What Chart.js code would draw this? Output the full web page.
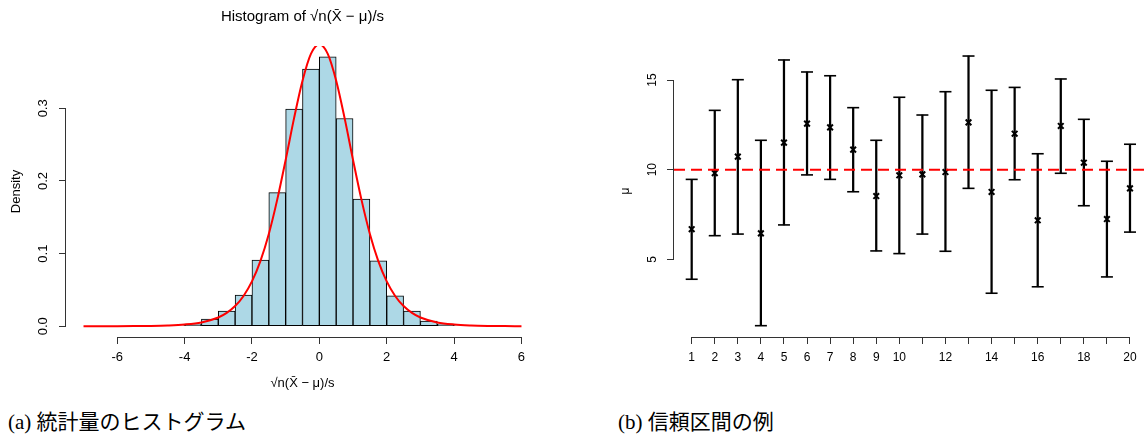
<!DOCTYPE html>
<html>
<head>
<meta charset="utf-8">
<script src="https://cdn.jsdelivr.net/npm/chart.js@4.4.0/dist/chart.umd.min.js"></script>
<style>
  html, body { margin:0; padding:0; background:#fff; overflow:hidden; }
  body { width:1146px; height:448px; position:relative; }
  canvas { position:absolute; top:0; }
  #cA { left:0; }
  #cB { left:570px; }
  .cap { position:absolute; top:412px; font-family:"Liberation Serif","Noto Sans CJK JP",serif; font-size:21px; line-height:21px; color:#000; white-space:nowrap; }
  #capA { left:8px; }
  #capB { left:618px; }
</style>
</head>
<body>
<canvas id="cA" width="560" height="400"></canvas>
<canvas id="cB" width="576" height="400"></canvas>
<div class="cap" id="capA">(a) 統計量のヒストグラム</div>
<div class="cap" id="capB">(b) 信頼区間の例</div>
<script>
// ---------- Panel (a): histogram ----------
const histCenters = [-4.25,-3.75,-3.25,-2.75,-2.25,-1.75,-1.25,-0.75,-0.25,0.25,0.75,1.25,1.75,2.25,2.75,3.25,3.75,4.25];
const histDensity = [0.001,0.003,0.010,0.021,0.043,0.091,0.184,0.299,0.354,0.371,0.286,0.175,0.090,0.042,0.021,0.007,0.003,0.001];
const curveX = [-7,-6.5,-6,-5.5,-5,-4.5,-4,-3.5,-3,-2.75,-2.5,-2.25,-2,-1.75,-1.5,-1.25,-1,-0.75,-0.5,-0.25,0,0.25,0.5,0.75,1,1.25,1.5,1.75,2,2.25,2.5,2.75,3,3.5,4,4.5,5,5.5,6];
const curveY = [0.00004,0.00007,0.00012,0.00025,0.0005,0.0011,0.0024,0.0053,0.0121,0.0184,0.0278,0.0417,0.0617,0.0897,0.127,0.1743,0.229,0.2865,0.338,0.375,0.388,0.375,0.338,0.2865,0.229,0.1743,0.127,0.0897,0.0617,0.0417,0.0278,0.0184,0.0121,0.0053,0.0024,0.0011,0.0005,0.00025,0.00012];
const xTicksA = [-6,-4,-2,0,2,4,6];
const yTicksA = [0,0.1,0.2,0.3];
const xRangeA = [-7.52, 6.52];
const yRangeA = [-0.0148, 0.3858];

// ---------- Panel (b): confidence intervals ----------
const ciIndex  = [1,2,3,4,5,6,7,8,9,10,11,12,13,14,15,16,17,18,19,20];
const ciCenter = [6.68,9.81,10.73,6.45,11.51,12.57,12.36,11.12,8.53,9.69,9.74,9.87,12.64,8.76,12.01,7.18,12.44,10.39,7.25,8.96];
const ciLower  = [3.89,6.32,6.41,1.30,6.92,9.71,9.46,8.77,5.47,5.32,6.41,5.45,8.96,3.11,9.44,3.47,9.80,7.99,4.02,6.52];
const ciUpper  = [9.46,13.31,15.02,11.64,16.12,15.45,15.24,13.46,11.64,14.04,13.05,14.35,16.34,14.43,14.59,10.89,15.06,12.81,10.47,11.42];
const trueMu = 10;
const xTicksB = [1,2,3,4,5,6,7,8,9,10,11,12,13,14,15,16,17,18,19,20];
const xLabelsB = [1,2,3,4,5,6,7,8,9,10,12,14,16,18,20];
const yTicksB = [5,10,15];
const xRangeB = [0.233, 20.694];
const yRangeB = [0.669, 16.955];

const FONT = "'Liberation Sans', Arial, Helvetica, sans-serif";
const AXIS = '#333';

const axisLines = {
  id: 'axisLines',
  afterDraw(chart) {
    const ctx = chart.ctx;
    const xs = chart.scales.x, ys = chart.scales.y;
    const al = p => Math.round(p - 0.5) + 0.5;
    ctx.save();
    ctx.strokeStyle = AXIS;
    ctx.lineWidth = 1;
    ctx.beginPath();
    const xt = xs.ticks, yt = ys.ticks;
    const yb = Math.round(xs.top) + 0.5;
    ctx.moveTo(al(xs.getPixelForValue(xt[0].value)), yb);
    ctx.lineTo(al(xs.getPixelForValue(xt[xt.length-1].value)), yb);
    const xl = Math.round(ys.right) - 0.5;
    ctx.moveTo(xl, al(ys.getPixelForValue(yt[0].value)));
    ctx.lineTo(xl, al(ys.getPixelForValue(yt[yt.length-1].value)));
    ctx.stroke();
    ctx.restore();
  }
};

function tickGrid() {
  return { display:true, offset:false, drawOnChartArea:false, drawTicks:true, tickLength:7, tickColor:AXIS, tickWidth:1, color:AXIS };
}
function fixX(h) {
  return s => { s.height = h; s.paddingLeft = 0; s.paddingRight = 0; };
}
function fixY(w) {
  return s => { s.width = w; s.paddingTop = 0; s.paddingBottom = 0; };
}

new Chart(document.getElementById('cA'), {
  type: 'bar',
  data: {
    datasets: [
      {
        type: 'line',
        data: curveX.map((x, i) => ({ x: x, y: curveY[i] })),
        borderColor: '#ff0000',
        borderWidth: 2,
        pointRadius: 0,
        cubicInterpolationMode: 'monotone',
        fill: false,
        order: 0
      },
      {
        type: 'bar',
        data: histCenters.map((x, i) => ({ x: x, y: histDensity[i] })),
        backgroundColor: '#add8e6',
        borderColor: '#000',
        borderWidth: 1,
        borderSkipped: false,
        barPercentage: 1,
        categoryPercentage: 1,
        order: 1
      }
    ]
  },
  options: {
    responsive: false,
    animation: false,
    devicePixelRatio: 1,
    layout: { autoPadding: false, padding: { left: 0, right: 21, top: 0, bottom: 0 } },
    plugins: {
      legend: { display: false },
      tooltip: { enabled: false },
      title: {
        display: true,
        fullSize: false,
        text: 'Histogram of \u221An(X\u0304 \u2212 \u03bc)/s',
        color: '#000',
        font: { family: FONT, size: 15, weight: 'normal' },
        padding: { top: 8, bottom: 20 }
      }
    },
    scales: {
      x: {
        type: 'linear',
        min: xRangeA[0], max: xRangeA[1],
        offset: false,
        afterBuildTicks: s => { s.ticks = xTicksA.map(v => ({ value: v })); },
        afterFit: fixX(63),
        grid: tickGrid(),
        border: { display: false },
        ticks: { autoSkip: false, maxRotation: 0, color: '#000', font: { family: FONT, size: 13 }, padding: 6 },
        title: { display: true, text: '\u221An(X\u0304 \u2212 \u03bc)/s', color: '#000', font: { family: FONT, size: 13 }, padding: { top: 0, bottom: 9 } }
      },
      y: {
        type: 'linear',
        min: yRangeA[0], max: yRangeA[1],
        afterBuildTicks: s => { s.ticks = yTicksA.map(v => ({ value: v })); },
        afterFit: fixY(66),
        grid: tickGrid(),
        border: { display: false },
        ticks: { minRotation: 90, maxRotation: 90, crossAlign: 'center', padding: 7, color: '#000', font: { family: FONT, size: 13 }, callback: v => Number(v).toFixed(1) },
        title: { display: true, text: 'Density', color: '#000', font: { family: FONT, size: 13 }, padding: { top: 9, bottom: 0 } }
      }
    }
  },
  plugins: [axisLines]
});

new Chart(document.getElementById('cB'), {
  type: 'bar',
  data: {
    datasets: [
      {
        type: 'line',
        data: [{ x: xRangeB[0], y: trueMu }, { x: xRangeB[1], y: trueMu }],
        borderColor: '#ff0000',
        borderWidth: 2,
        borderDash: [11, 6],
        pointRadius: 0,
        fill: false,
        order: 0
      },
      {
        type: 'line',
        showLine: false,
        data: ciIndex.map((x, i) => ({ x: x, y: ciCenter[i] })),
        pointStyle: 'crossRot',
        pointRadius: 4,
        pointBorderWidth: 2,
        pointBorderColor: '#000',
        borderColor: '#000',
        order: 1
      },
      {
        type: 'line',
        showLine: false,
        data: ciIndex.map((x, i) => ({ x: x, y: ciUpper[i] })),
        pointStyle: 'line',
        pointRadius: 6,
        pointBorderWidth: 1.6,
        pointBorderColor: '#000',
        borderColor: '#000',
        order: 2
      },
      {
        type: 'line',
        showLine: false,
        data: ciIndex.map((x, i) => ({ x: x, y: ciLower[i] })),
        pointStyle: 'line',
        pointRadius: 6,
        pointBorderWidth: 1.6,
        pointBorderColor: '#000',
        borderColor: '#000',
        order: 3
      },
      {
        type: 'bar',
        data: ciIndex.map((x, i) => ({ x: x, y: [ciLower[i], ciUpper[i]] })),
        backgroundColor: '#000',
        borderWidth: 0,
        barThickness: 1.6,
        order: 4
      }
    ]
  },
  options: {
    responsive: false,
    animation: false,
    devicePixelRatio: 1,
    layout: { autoPadding: false, padding: { left: 0, right: 0, top: 45, bottom: 0 } },
    plugins: { legend: { display: false }, tooltip: { enabled: false } },
    scales: {
      x: {
        type: 'linear',
        min: xRangeB[0], max: xRangeB[1],
        offset: false,
        afterBuildTicks: s => { s.ticks = xTicksB.map(v => ({ value: v })); },
        afterFit: fixX(63),
        grid: tickGrid(),
        border: { display: false },
        ticks: { autoSkip: false, maxRotation: 0, color: '#000', font: { family: FONT, size: 12 }, padding: 6.5,
                 callback: v => xLabelsB.includes(v) ? String(v) : '' }
      },
      y: {
        type: 'linear',
        min: yRangeB[0], max: yRangeB[1],
        afterBuildTicks: s => { s.ticks = yTicksB.map(v => ({ value: v })); },
        afterFit: fixY(104),
        grid: tickGrid(),
        border: { display: false },
        ticks: { minRotation: 90, maxRotation: 90, crossAlign: 'center', padding: 8, color: '#000', font: { family: FONT, size: 12 }, callback: v => String(v) },
        title: { display: true, text: '\u03bc', color: '#000', font: { family: FONT, size: 12 }, padding: { top: 48, bottom: 0 } }
      }
    }
  },
  plugins: [axisLines]
});
</script>
</body>
</html>
